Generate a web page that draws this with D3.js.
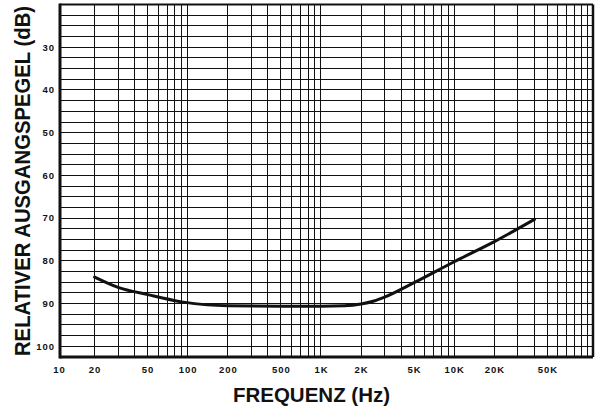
<!DOCTYPE html>
<html>
<head>
<meta charset="utf-8">
<script src="https://cdn.jsdelivr.net/npm/d3@7"></script>
<style>
    body { margin: 0; background: #ffffff; }
    svg { display: block; }
</style>
</head>
<body>
<svg id="chart"></svg>
<script>
// Frequency response curve (Hz -> relative level in dB, axis runs downward)
const frequencies = [20, 30, 50, 90, 140, 200, 500, 1000, 1500, 2000, 2500, 3000, 5000, 10000, 20000, 40000];
const levels = [83.8, 86.2, 87.9, 89.6, 90.3, 90.5, 90.6, 90.6, 90.5, 90.1, 89.4, 88.5, 85.1, 80.2, 75.5, 70.3];

const xTickValues = [10, 20, 50, 100, 200, 500, 1000, 2000, 5000, 10000, 20000, 50000];
const xTickLabels = ['10', '20', '50', '100', '200', '500', '1K', '2K', '5K', '10K', '20K', '50K'];
const yTickValues = [30, 40, 50, 60, 70, 80, 90, 100];

const width = 596, height = 409;
const margin = { left: 60, right: 3, top: 4.5, bottom: 52 };

const svg = d3.select('#chart')
    .attr('width', width)
    .attr('height', height);

const x = d3.scaleLog()
    .domain([11, 110000])
    .range([margin.left, width - margin.right]);

const y = d3.scaleLinear()
    .domain([20, 102.5])
    .range([margin.top, height - margin.bottom]);

const ink = '#111111';

// Grid: log lines 1..9 per decade, level lines every 2.5 dB
const xGrid = [];
for (let p = 10; p <= 100000; p *= 10) {
    for (let m = 1; m <= 9; m++) {
        const v = p * m;
        if (v > x.domain()[0] && v < x.domain()[1]) xGrid.push(v);
    }
}
const yGrid = d3.range(22.5, 101, 2.5);

const grid = svg.append('g').attr('shape-rendering', 'crispEdges');

grid.selectAll('.vgrid')
    .data(xGrid)
    .enter().append('line')
    .attr('class', 'vgrid')
    .attr('x1', d => x(d))
    .attr('x2', d => x(d))
    .attr('y1', y.range()[0])
    .attr('y2', y.range()[1])
    .style('stroke', ink)
    .style('stroke-width', 1);

grid.selectAll('.hgrid')
    .data(yGrid)
    .enter().append('line')
    .attr('class', 'hgrid')
    .attr('x1', x.range()[0])
    .attr('x2', x.range()[1])
    .attr('y1', d => y(d))
    .attr('y2', d => y(d))
    .style('stroke', ink)
    .style('stroke-width', 1);

// Frame, heavier on the left and bottom
const frame = svg.append('g').style('stroke', ink).style('fill', 'none');
frame.append('line')
    .attr('x1', x.range()[0]).attr('x2', x.range()[1])
    .attr('y1', y.range()[0]).attr('y2', y.range()[0])
    .style('stroke-width', 2);
frame.append('line')
    .attr('x1', x.range()[1]).attr('x2', x.range()[1])
    .attr('y1', y.range()[0]).attr('y2', y.range()[1])
    .style('stroke-width', 2.5);
frame.append('line')
    .attr('x1', x.range()[0]).attr('x2', x.range()[1])
    .attr('y1', y.range()[1]).attr('y2', y.range()[1])
    .style('stroke-width', 3);
frame.append('line')
    .attr('x1', x.range()[0]).attr('x2', x.range()[0])
    .attr('y1', y.range()[0] - 1).attr('y2', y.range()[1] + 1.5)
    .style('stroke-width', 3);

// Response curve
const line = d3.line()
    .x((d, i) => x(frequencies[i]))
    .y(d => y(d))
    .curve(d3.curveMonotoneX);

svg.append('path')
    .datum(levels)
    .attr('d', line)
    .style('fill', 'none')
    .style('stroke', ink)
    .style('stroke-width', 3)
    .style('stroke-linecap', 'round');

// Tick labels
const tickFont = "'Liberation Sans', Arial, sans-serif";

svg.selectAll('.xlabel')
    .data(xTickValues)
    .enter().append('text')
    .attr('class', 'xlabel')
    .attr('x', d => Math.max(x(d), x.range()[0] - 1) + 0.5)
    .attr('y', 373)
    .attr('text-anchor', 'middle')
    .style('font-family', tickFont)
    .style('font-size', '9.5px')
    .style('font-weight', 'bold')
    .style('letter-spacing', '1px')
    .style('fill', ink)
    .text((d, i) => xTickLabels[i]);

svg.selectAll('.ylabel')
    .data(yTickValues)
    .enter().append('text')
    .attr('class', 'ylabel')
    .attr('x', 55)
    .attr('y', d => y(d))
    .attr('dy', '0.35em')
    .attr('text-anchor', 'end')
    .style('font-family', tickFont)
    .style('font-size', '9.5px')
    .style('font-weight', 'bold')
    .style('letter-spacing', '1px')
    .style('fill', ink)
    .text(d => d);

// Axis titles (the y title is stretched a little across its glyph height)
svg.append('text')
    .attr('x', 311.5)
    .attr('y', 402)
    .attr('text-anchor', 'middle')
    .style('font-family', tickFont)
    .style('font-size', '20.5px')
    .style('font-weight', 'bold')
    .style('fill', ink)
    .text('FREQUENZ (Hz)');

svg.append('text')
    .attr('transform', 'translate(30, 181) rotate(-90) scale(1, 1.08)')
    .attr('text-anchor', 'middle')
    .style('font-family', tickFont)
    .style('font-size', '20.3px')
    .style('font-weight', 'bold')
    .style('fill', ink)
    .text('RELATIVER AUSGANGSPEGEL (dB)');
</script>
</body>
</html>
